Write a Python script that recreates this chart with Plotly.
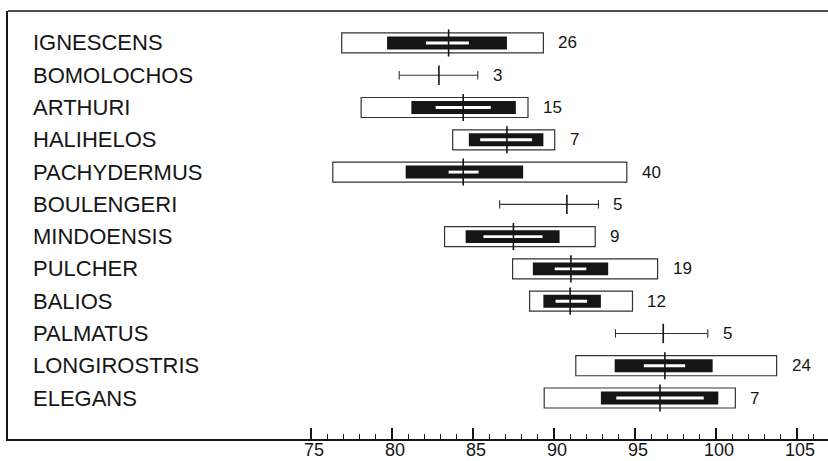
import plotly.graph_objects as go

species = ["IGNESCENS", "BOMOLOCHOS", "ARTHURI", "HALIHELOS", "PACHYDERMUS", "BOULENGERI",
           "MINDOENSIS", "PULCHER", "BALIOS", "PALMATUS", "LONGIROSTRIS", "ELEGANS"]
sample_n = [26, 3, 15, 7, 40, 5, 9, 19, 12, 5, 24, 7]
mean_val = [83.5, 82.9, 84.4, 87.1, 84.4, 90.8, 87.5, 91.05, 91.0, 96.75, 96.85, 96.55]
range_min = [76.9, 80.45, 78.1, 83.75, 76.35, 86.65, 83.25, 87.45, 88.5, 93.8, 91.35, 89.4]
range_max = [89.35, 85.3, 88.4, 90.05, 94.5, 92.75, 92.55, 96.4, 94.85, 99.5, 103.75, 101.2]
sd_low = [79.7, None, 81.2, 84.75, 80.85, None, 84.55, 88.7, 89.35, None, 93.75, 92.9]
sd_high = [87.1, None, 87.65, 89.35, 88.1, None, 90.35, 93.35, 92.9, None, 99.8, 100.15]
se_low = [82.1, None, 82.7, 85.45, 83.5, None, 85.65, 90.05, 90.1, None, 95.55, 93.85]
se_high = [84.75, None, 86.1, 88.65, 85.35, None, 89.3, 92.0, 92.05, None, 98.1, 99.25]
tick_vals = [75, 80, 85, 90, 95, 100, 105]
tick_text = ["75", "80", "85", "90", "95", "100", "105"]
minor_vals = list(range(75, 107))

rows = list(range(len(species)))
box_rows = [i for i in rows if sd_low[i] is not None]
line_rows = [i for i in rows if sd_low[i] is None]

INK = "#151515"
fig = go.Figure()

# outer range box
fig.add_trace(go.Bar(
    orientation="h", y=box_rows,
    x=[range_max[i] - range_min[i] for i in box_rows],
    base=[range_min[i] for i in box_rows],
    width=0.62, marker=dict(color="white", line=dict(color="#333", width=1.2)),
    hoverinfo="skip"))
# black SD box
fig.add_trace(go.Bar(
    orientation="h", y=box_rows,
    x=[sd_high[i] - sd_low[i] for i in box_rows],
    base=[sd_low[i] for i in box_rows],
    width=0.4, marker=dict(color=INK, line=dict(width=0)),
    hoverinfo="skip"))
# white SE box
fig.add_trace(go.Bar(
    orientation="h", y=box_rows,
    x=[se_high[i] - se_low[i] for i in box_rows],
    base=[se_low[i] for i in box_rows],
    width=0.09, marker=dict(color="white", line=dict(width=0)),
    hoverinfo="skip"))

# range lines for small samples
lx, ly = [], []
for i in line_rows:
    lx += [range_min[i], range_max[i], None]
    ly += [i, i, None]
    for v in (range_min[i], range_max[i]):
        lx += [v, v, None]
        ly += [i - 0.13, i + 0.13, None]
fig.add_trace(go.Scatter(x=lx, y=ly, mode="lines",
                         line=dict(color="#333", width=1.1), hoverinfo="skip"))

# mean lines
mx, my = [], []
for i in rows:
    h = 0.42 if i in box_rows else 0.3
    mx += [mean_val[i], mean_val[i], None]
    my += [i - h, i + h, None]
fig.add_trace(go.Scatter(x=mx, y=my, mode="lines",
                         line=dict(color=INK, width=1.6), hoverinfo="skip"))

annotations = []
for i in rows:
    annotations.append(dict(x=23 / 820, xref="paper", y=i, yref="y", text=species[i],
                            showarrow=False, xanchor="left", yanchor="middle",
                            font=dict(family="Liberation Sans", size=22, color=INK)))
    annotations.append(dict(x=range_max[i], xref="x", y=i, yref="y", text=str(sample_n[i]),
                            showarrow=False, xanchor="left", yanchor="middle", xshift=13,
                            font=dict(family="Liberation Sans", size=17, color=INK)))

fig.update_layout(
    width=828, height=461,
    margin=dict(l=8, r=0, t=11, b=22, autoexpand=False),
    paper_bgcolor="white", plot_bgcolor="white",
    showlegend=False, barmode="overlay",
    annotations=annotations,
    shapes=[dict(type="line", xref="paper", yref="paper", x0=0, x1=1, y0=1, y1=1,
                 line=dict(color=INK, width=1.5))],
    xaxis=dict(range=[56.3, 106.92], showgrid=False, zeroline=False, automargin=False,
               showline=True, linecolor=INK, linewidth=2,
               tickmode="array", tickvals=tick_vals, ticktext=tick_text,
               ticks="inside", ticklen=11, tickwidth=2, tickcolor=INK,
               ticklabelstandoff=-7, ticklabelshift=3,
               tickfont=dict(family="Liberation Sans", size=18, color=INK),
               minor=dict(tickmode="array", tickvals=minor_vals, ticks="inside",
                          ticklen=5, tickwidth=1.2, tickcolor=INK, showgrid=False)),
    yaxis=dict(range=[12.27, -0.99], showgrid=False, zeroline=False, automargin=False,
               showline=True, linecolor=INK, linewidth=2, showticklabels=False,
               ticks=""),
)

fig.write_html("out.html", config={"displayModeBar": False},
               post_script="document.body.style.margin='0';document.body.style.overflow='hidden';")
